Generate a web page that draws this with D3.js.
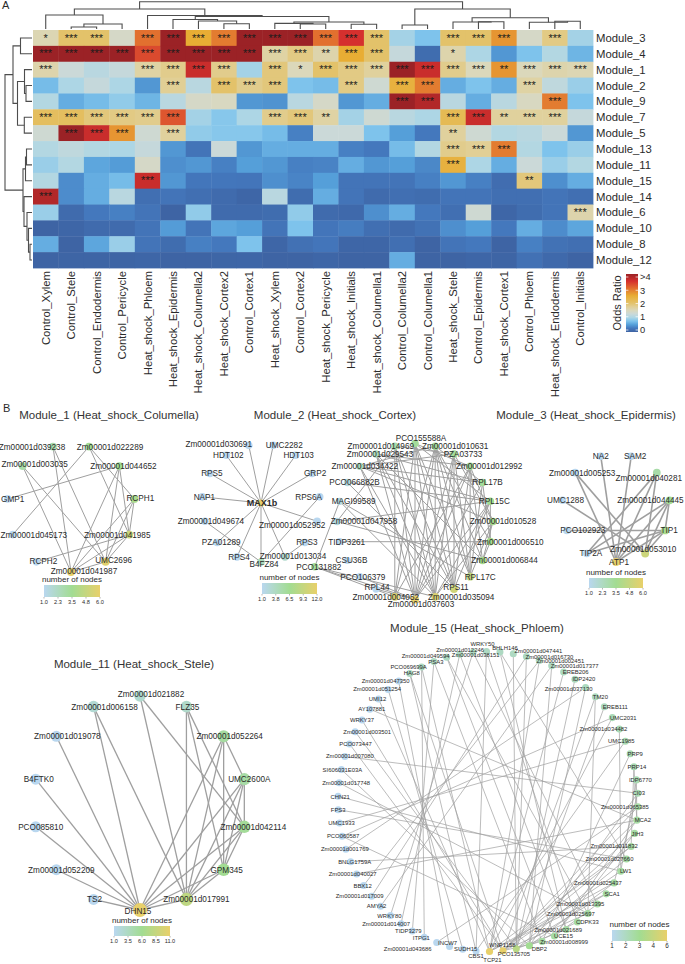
<!DOCTYPE html>
<html><head><meta charset="utf-8">
<script src="https://cdn.jsdelivr.net/npm/d3@7"></script>
<style>html,body{margin:0;padding:0;background:#fff}svg{display:block}text{font-family:"Liberation Sans",Arial,sans-serif}</style>
</head><body><div id="chart"></div>
<script>
// ---------- DATA ----------
const columnLabels = ["Control_Xylem","Control_Stele","Control_Endodermis","Control_Pericycle","Heat_shock_Phloem","Heat_shock_Epidermis","Heat_shock_Columella2","Heat_shock_Cortex2","Control_Cortex1","Heat_shock_Xylem","Control_Cortex2","Heat_shock_Pericycle","Heat_shock_Initials","Heat_shock_Columella1","Control_Columella2","Control_Columella1","Heat_shock_Stele","Control_Epidermis","Heat_shock_Cortex1","Control_Phloem","Heat_shock_Endodermis","Control_Initials"];
const rowLabels = ["Module_3","Module_4","Module_1","Module_2","Module_9","Module_7","Module_5","Module_13","Module_11","Module_15","Module_14","Module_6","Module_10","Module_8","Module_12"];
const oddsRatio = [
 [1.55,2.0,2.0,1.4,3.0,4,2.5,2.9,4,4,4,3.0,3.5,2.0,0.95,0.75,2.0,2.0,2.7,1.4,1.85,0.95],
 [4,4,4,4,3.3,4,4,4,4,1.65,1.85,1.6,2.5,2.0,1.2,0.12,1.6,1.0,0.45,0.75,1.05,0.65],
 [1.6,1.25,1.1,1.2,1.65,1.8,3.6,1.8,0.95,1.9,1.5,2.0,1.85,1.7,4,3.6,1.8,1.5,2.7,1.5,1.6,1.55],
 [0.7,1.0,1.2,1.0,0.45,1.75,1.1,2.0,1.8,1.9,0.75,0.7,1.85,1.3,2.4,2.9,0.6,0.75,0.6,1.65,1.15,0.9],
 [1.05,0.6,0.7,0.85,0.65,1.1,1.4,1.45,0.45,0.42,1.1,1.4,0.45,0.6,4,3.8,1.1,0.6,1.1,1.45,2.9,0.75],
 [2.1,2.1,1.9,1.85,1.8,3.2,0.95,0.8,1.0,1.8,1.9,1.65,0.95,1.3,1.1,1.0,2.2,3.6,1.7,1.7,1.7,1.2],
 [1.3,4,3.6,2.7,1.3,1.7,0.85,0.8,0.8,0.7,0.3,1.25,1.25,0.75,0.5,0.25,1.7,1.3,1.05,1.1,1.25,0.45],
 [1.05,1.15,1.05,1.0,1.2,0.45,0.2,1.25,0.45,0.6,0.6,0.6,0.3,0.25,0.7,1.05,1.8,1.75,2.9,1.05,0.75,0.9],
 [0.9,1.05,0.55,0.48,1.4,0.4,0.45,0.3,0.5,0.45,0.3,0.32,0.6,0.45,0.5,0.35,2.4,1.0,0.6,1.25,0.9,1.05],
 [1.05,0.38,0.6,0.7,3.6,0.45,0.23,0.23,0.22,0.4,0.33,0.5,0.2,0.2,0.2,0.3,0.45,0.3,0.13,1.9,0.4,0.6],
 [3.8,0.38,0.6,1.1,0.15,0.2,0.15,0.1,0.05,1.1,0.12,0.6,0.2,0.1,0.15,0.12,0.2,0.2,0.15,0.15,0.2,0.15],
 [0.9,0.1,0.25,0.3,0.2,0.02,0.85,0.1,0.1,0.12,0.85,0.1,0.08,0.4,0.6,0.25,0.15,1.3,0.05,0.12,0.2,1.6],
 [0.02,0.05,0.1,0.1,0.2,0.48,0.2,0.55,0.5,0.2,0.75,0.22,0.28,0.15,0.1,0.18,0.4,0.5,0.25,0.6,0.38,0.55],
 [0.6,0.02,0.55,0.9,0.2,0.12,0.3,0.25,0.75,0.05,0.17,0.22,0.05,0.05,0.15,0.02,0.2,0.25,0.02,0.3,0.18,0.15],
 [0.02,0.03,0.03,0.03,0.05,0.02,0.02,0.04,0.05,0.02,0.02,0.05,0.02,0.02,0.6,0.02,0.02,0.05,0.03,0.17,0.08,0.02]
];
const starCounts = ["1330333333333300333030","3333333333323300100000","3000333303133333332333","0000030333003033000300","0000000000000033000030","3333330003320000332330","0333030000000000200000","0000000000000000333000","0000000000000000300000","0000300000000000000200","3000000000000000000000","0000000000000000000003","0000000000000000000000","0000000000000000000000","0000000000000000000000"];
const oddsTicks = [0,1,2,3,4];
const oddsTickLabels = ["0","1","2","3",">4"];
// dendrograms: [height, leftChild, rightChild], leaves are indices
const columnTree = [27.3,
  [20,
    [14,0,[5,[2,1,2],3]],
    [13.5,4,[12.5,
       [9.5,5,[8,6,[5.3,7,8]]],
       [7,[5.6,9,[5,10,11]],[4.7,12,13]]]]],
  [20,[4,14,15],
    [11.3,[7,16,[7.3,17,18]],[6.7,19,[7.7,20,21]]]]];
const rowTree = [27,
  [19,[11.5,0,1],
     [14.5,[7.5,2,[6,3,4]],[7.7,5,6]]],
  [9,[6.5,[5.5,7,8],9],
     [8,10,[5,11,[3.5,12,[2,13,14]]]]]];

const m1Nodes = ["Zm00001d041987","UMC2696","Zm00001d041985","RCPH1","Zm00001d044652","Zm00001d022289","Zm00001d039238","Zm00001d003035","GMP1","Zm00001d045173","RCPH2"];
const m1Degrees = [6,5.7,5,3.8,3.5,3.4,2.8,2.9,1,1,1];
const m1Edges = [["041987","039238"],["041987","003035"],["041987","044652"],["041987","RCPH1"],["041987","041985"],["041987","UMC2696"],["UMC2696","003035"],["UMC2696","044652"],["UMC2696","RCPH1"],["UMC2696","041985"],["041985","RCPH1"],["041985","RCPH2"],["041985","022289"],["041985","044652"],["RCPH1","022289"],["022289","045173"],["044652","GMP1"],["039238","UMC2696"]];

const m2StarNodes = ["Zm00001d013034","RPS3","Zm00001d052952","RPS6A","GRP2","HDT103","UMC2282","Zm00001d030691","HDT102","RPS5","NAP1","Zm00001d049674","PZA01289","RPS4","B4FZ84"];
const m2StarDegrees = [3,1,1,1,1,1,1,1,1,1,1,1,1,1,4];
const m2StarEdges = [["MAX1b","Zm00001d030691"],["MAX1b","UMC2282"],["MAX1b","HDT102"],["MAX1b","HDT103"],["MAX1b","GRP2"],["MAX1b","NAP1"],["MAX1b","052952"],["MAX1b","013034"],["MAX1b","B4FZ84"],["MAX1b","RPS4"],["MAX1b","PZA01289"],["MAX1b","RPS5"],["B4FZ84","RPS6A"],["B4FZ84","049674"],["013034","RPS3"]];
const m2RingNodes = ["Zm00001d037603","Zm00001d035094","RPS11","RPL17C","Zm00001d006844","Zm00001d006510","Zm00001d010528","RPL15C","RPL17B","Zm00001d012992","PZA03733","Zm00001d010631","PCO155588A","Zm00001d014969","Zm00001d029543","Zm00001d034422","PCO066882B","MAGI99589","Zm00001d047958","TIDP3261","CSU36B","PCO106379","RPL44","Zm00001d004052"];
const m2RingDegrees = [12,11,10,9,7,7,7,6.5,6,6,6,6,6,5,4,4,2,2,2,1,1,1,1,11];
const m2RingEdges = [["037603","155588A"],["037603","014969"],["037603","029543"],["037603","PZA03733"],["037603","010631"],["037603","012992"],["037603","RPL17B"],["037603","RPL15C"],["037603","034422"],["037603","PCO131882"],["037603","PCO106379"],["037603","RPL44"],
["004052","014969"],["004052","155588A"],["004052","PCO131882"],["004052","012992"],["004052","010631"],
["035094","029543"],["035094","034422"],["035094","014969"],["035094","155588A"],["035094","010631"],["035094","PZA03733"],["035094","RPL15C"],["035094","010528"],["035094","PCO131882"],["035094","MAGI99589"],
["RPS11","029543"],["RPS11","155588A"],["RPS11","014969"],["RPS11","010631"],["RPS11","PZA03733"],["RPS11","012992"],["RPS11","RPL15C"],["RPS11","PCO066882B"],
["RPL17C","MAGI99589"],["RPL17C","012992"],["RPL17C","RPL17B"],["RPL17C","PZA03733"],["RPL17C","010631"],["RPL17C","155588A"],["RPL17C","010528"],
["006844","047958"],["006844","012992"],["006844","010528"],["006844","006510"],["006844","029543"],["006844","010631"],
["006510","TIDP3261"],["006510","010631"],["006510","RPL15C"],["006510","RPL17B"],
["010528","PZA03733"],["010528","034422"],["010528","012992"],
["RPL15C","PCO066882B"],["RPL15C","047958"],["RPL15C","034422"],["RPL15C","155588A"],
["RPL17B","034422"],["RPL17B","029543"],["RPL17B","010631"],["012992","029543"],["012992","155588A"],["PZA03733","014969"],["PZA03733","034422"],["010631","034422"],["MAGI99589","PCO131882"],["014969","047958"]];

const m3Nodes = ["ATP1","Zm00001d053010","TIP1","Zm00001d044445","Zm00001d040281","SAM2","NA2","Zm00001d005253","UMC1288","PCO102923","TIP2A"];
const m3Degrees = [6,5,3.8,3.4,2.9,1,1,1,1,1,1];
const m3Edges = [["ATP1","NA2"],["ATP1","SAM2"],["ATP1","040281"],["ATP1","044445"],["ATP1","TIP1"],["ATP1","005253"],["053010","UMC1288"],["053010","040281"],["053010","044445"],["053010","TIP1"],["053010","005253"],["TIP1","PCO102923"],["TIP1","044445"],["TIP1","TIP2A"],["044445","TIP2A"],["040281","TIP2A"]];

const m11Nodes = ["DHN15","Zm00001d017991","GPM345","Zm00001d042114","UMC2600A","Zm00001d052264","FLZ35","Zm00001d021882","Zm00001d006158","Zm00001d019078","B4FTK0","PCO085810","Zm00001d052209","TS2"];
const m11Degrees = [11,8,6,5.6,5,5.2,3,2.8,2.5,1,1,1,1,1];
const m11Edges = [["DHN15","TS2"],["DHN15","052209"],["DHN15","PCO085810"],["DHN15","B4FTK0"],["DHN15","019078"],["DHN15","006158"],["DHN15","017991"],["DHN15","GPM345"],["DHN15","042114"],["DHN15","UMC2600A"],["DHN15","052264"],["017991","006158"],["017991","021882"],["017991","FLZ35"],["017991","052264"],["017991","UMC2600A"],["017991","042114"],["017991","GPM345"],["GPM345","FLZ35"],["GPM345","052264"],["GPM345","UMC2600A"],["GPM345","042114"],["042114","FLZ35"],["042114","021882"],["042114","UMC2600A"],["052264","UMC2600A"]];

const m15Nodes = ["TCP21","PCO135705","WNP1158","DBP2","Zm00001d008999","UCE15","Zm00001d021689","CDPK33","Zm00001d025697","Zm00001d013395","SCA1","Zm00001d025437","LW1","Zm00001d027660","Zm00001d011832","JIH3","MCA2","Zm00001d065385","CI03","IDP6770","PRP14","PRP9","UMC1985","Zm00001d034482","UMC2031","EREB111","TM20","Zm00001d037130","IDP2420","EREB206","Zm00001d017377","Zm00001d002451","Zm00001d016730","Zm00001d047441","BHLH146","WRKY50","Zm00001d012246","Zm00001d038151","Zm00001d049594","PSA3","PCO069699A","HAG8","Zm00001d047350","Zm00001d051254","UMI12","AY107881","WRKY37","Zm00001d003501","PCO073447","Zm00001d007080","SI606031E03A","Zm00001d017748","CHN21","FPS3","UMC1933","PCO060587","Zm00001d001769","BNLG1759A","Zm00001d040027","BBX12","Zm00001d017009","AMYA2","WRKY80","Zm00001d014007","TIDP3279","ITPG1","Zm00001d043686","INCW7","SUDH15","CBS1"];
const m15Degrees = [6,6,4.3,3.5,3,3,3,3,3,3,3,3,3,3,3,3,3,3,2.6,2.6,2.6,2.6,2.6,2.5,2.5,2.3,2.3,2.3,2.3,2.3,2.2,2.2,2.2,2.2,2.2,2.2,2.2,2.2,2.2,2.2,2.2,2.2,1,1,1,1,1,1,1,1,1,1,1,1,1,1,1,1,1,1,1,1,1,1,1,1,1,1,1,1];
const m15Edges = [["PCO069699A","ITPG1"],["047441","WNP1158"],["016730","WNP1158"],["EREB206","TCP21"],["IDP2420","WNP1158"],["EREB111","WNP1158"],["014007","038151"],["TIDP3279","PSA3"],["HAG8","CBS1"],["047350","INCW7"],["051254","SUDH15"],["UMI12","TCP21"],["WRKY37","PCO135705"],["AY107881","MCA2"],["003501","WNP1158"],["PCO073447","PCO135705"],["007080","CI03"],["SI606031E03A","DBP2"],["017748","025697"],["CHN21","LW1"],["FPS3","027660"],["UMC1933","UMC1985"],["PCO060587","UCE15"],["PCO060587","UMC2031"],["001769","037130"],["BNLG1759A","011832"],["040027","MCA2"],["BBX12","002451"],["017009","016730"],["AMYA2","017377"],["WRKY80","012246"],["043686","065385"],["049594","025697"],["038151","021689"],["012246","013395"],["BHLH146","027660"],["WRKY50","CDPK33"],["PSA3","008999"],["PCO069699A","TCP21"],["HAG8","PCO135705"],["034482","LW1"],["PRP9","008999"],["PRP14","011832"],["IDP6770","LW1"],["CI03","025437"],["065385","PCO135705"],["MCA2","PCO135705"],["JIH3","PCO135705"],["JIH3","UCE15"],["011832","TCP21"],["011832","PCO135705"],["027660","WNP1158"],["025437","TCP21"],["025437","DBP2"],["LW1","PCO135705"],["SCA1","WNP1158"],["SCA1","TCP21"],["013395","UCE15"],["025697","PCO135705"],["CDPK33","DBP2"],["021689","WNP1158"],["008999","PCO135705"],["TM20","025697"],["017377","DBP2"],["002451","TCP21"],["UMC1985","CBS1"],["WRKY50","CBS1"],["BHLH146","021689"],["IDP6770","MCA2"],["PRP14","MCA2"],["UMC2031","TCP21"],["TM20","PCO135705"],["MCA2","UCE15"],["CI03","DBP2"],["037130","DBP2"],["049594","UCE15"]];

// ---------- LAYOUT ----------
const W = 685, H = 964;
const svg = d3.select("#chart").append("svg").attr("width",W).attr("height",H).attr("viewBox",`0 0 ${W} ${H}`);
const TXT = "#2a2a2a";

// heat map
const heatX = d3.scaleBand().domain(d3.range(columnLabels.length)).range([33,593]);
const heatY = d3.scaleBand().domain(d3.range(rowLabels.length)).range([30,268]);
const oddsColor = d3.scaleLinear()
  .domain([0,0.25,0.5,0.75,1,1.25,1.5,1.75,2,2.5,3,3.5,4])
  .range(["#3d62a2","#4478bd","#559fd9","#7ec3ec","#add6e5","#cbd9d8","#dbd8bb","#e1cf95","#e3c26a","#e8ad34","#e2702f","#d5302e","#9b2226"])
  .clamp(true);
const heat = svg.append("g");
oddsRatio.forEach((row,r)=>row.forEach((v,c)=>{
  heat.append("rect").attr("x",heatX(c)).attr("y",heatY(r)).attr("width",heatX.bandwidth()+.4).attr("height",heatY.bandwidth()+.4).attr("fill",oddsColor(v));
  const n=+starCounts[r][c];
  if(n) heat.append("text").attr("x",heatX(c)+heatX.bandwidth()/2).attr("y",heatY(r)+heatY.bandwidth()/2+3.6).attr("text-anchor","middle").attr("font-size",11).attr("fill","#1c1c1c").text("*".repeat(n));
}));
rowLabels.forEach((l,r)=>svg.append("text").attr("x",596).attr("y",heatY(r)+heatY.bandwidth()/2+4).attr("font-size",11.3).attr("fill",TXT).text(l));
columnLabels.forEach((l,c)=>svg.append("text").attr("transform",`translate(${heatX(c)+heatX.bandwidth()/2+4},271) rotate(-90)`).attr("text-anchor","end").attr("font-size",11.3).attr("fill",TXT).text(l));

// dendrograms
function drawTree(tree, leafPos, heightPos, horizontal){
  const g = svg.append("g").attr("fill","none").attr("stroke","#4d4d4d").attr("stroke-width",1.1);
  const walk = n=>{
    if(typeof n==="number") return {p:leafPos(n),h:0};
    const a=walk(n[1]), b=walk(n[2]), H=n[0];
    const pts=[[a.p,a.h],[a.p,H],[b.p,H],[b.p,b.h]];
    const line=d3.line().x(d=>horizontal?heightPos(d[1]):d[0]).y(d=>horizontal?d[0]:heightPos(d[1]));
    g.append("path").attr("d",line(pts));
    return {p:(a.p+b.p)/2,h:H};
  };
  walk(tree);
}
drawTree(columnTree,i=>heatX(i)+heatX.bandwidth()/2,d3.scaleLinear().domain([0,27.3]).range([29,1.7]),false);
drawTree(rowTree,i=>heatY(i)+heatY.bandwidth()/2,d3.scaleLinear().domain([0,27]).range([32,5]),true);

// odds legend
const defs = svg.append("defs");
const oddsY = d3.scaleLinear().domain([0,4]).range([330,277]);
const og = defs.append("linearGradient").attr("id","oddsG").attr("x1",0).attr("x2",0).attr("y1",1).attr("y2",0);
d3.range(0,4.01,.25).forEach(v=>og.append("stop").attr("offset",v/4).attr("stop-color",oddsColor(v)));
svg.append("rect").attr("x",626).attr("y",oddsY(4)-3).attr("width",12).attr("height",oddsY(0)-oddsY(4)+5).attr("fill","url(#oddsG)");
oddsTicks.forEach((t,i)=>{
  svg.append("path").attr("d",`M626,${oddsY(t)}h2.4M635.6,${oddsY(t)}h2.4`).attr("stroke","#fff").attr("stroke-width",.7);
  svg.append("text").attr("x",640).attr("y",oddsY(t)+3.3).attr("font-size",9.3).attr("fill",TXT).text(oddsTickLabels[i]);
});
svg.append("text").attr("transform","translate(621,303) rotate(-90)").attr("text-anchor","middle").attr("font-size",11).attr("fill",TXT).text("Odds Ratio");

// panel letters
svg.append("text").attr("x",2).attr("y",9).attr("font-size",11).attr("fill",TXT).text("A");
svg.append("text").attr("x",3).attr("y",412).attr("font-size",11).attr("fill",TXT).text("B");

// networks
const netColor = d3.scaleLinear().domain([0,.5,1]).range(["#b9d7ef","#a2dc92","#e8d06a"]);
const keyOf = (nodes,k)=>nodes.find(n=>n.name===k||n.name.endsWith(k));
function ringNodes(names,degrees,c){
  const angle=d3.scaleLinear().domain([0,names.length]).range([c.start,c.start-2*Math.PI]);
  return names.map((name,i)=>{
    const [x,y]=d3.pointRadial(angle(i),c.r);
    return {name,deg:degrees[i],x:c.cx+x,y:c.cy+y};
  });
}
function drawNet(nodes,edges,cfg){
  const size=d3.scaleLinear().domain(cfg.domain).range(cfg.radius);
  const col=d3.scaleLinear().domain(cfg.domain).range([0,1]);
  const g=svg.append("g");
  edges.forEach(([a,b])=>{
    const s=keyOf(nodes,a),t=keyOf(nodes,b);
    if(s&&t) g.append("line").attr("x1",s.x).attr("y1",s.y).attr("x2",t.x).attr("y2",t.y).attr("stroke","#9f9f9f").attr("stroke-width",cfg.width);
  });
  nodes.forEach(n=>g.append("circle").attr("cx",n.x).attr("cy",n.y).attr("r",size(n.deg)).attr("fill",netColor(col(n.deg))));
  nodes.forEach(n=>{
    const o=(cfg.shift&&cfg.shift[n.name.replace("Zm00001d","")])||[0,0];
    g.append("text").attr("x",n.x+o[0]).attr("y",n.y+o[1]).attr("dy",".36em").attr("text-anchor","middle")
      .attr("font-size",n.bold?9:cfg.font).attr("font-weight",n.bold?"bold":"normal").attr("fill",TXT).text(n.name);
  });
}
function title(t,x,y){svg.append("text").attr("x",x).attr("y",y+4).attr("text-anchor","middle").attr("font-size",11.5).attr("fill","#333").text(t);}
function legend(ticks,c){
  const id="g"+c.x0;
  const lg=defs.append("linearGradient").attr("id",id);
  d3.range(0,1.01,.25).forEach(v=>lg.append("stop").attr("offset",v).attr("stop-color",netColor(v)));
  svg.append("text").attr("x",(c.x0+c.x1)/2).attr("y",c.y0-3).attr("text-anchor","middle").attr("font-size",c.tf).attr("fill",TXT).text("number of nodes");
  svg.append("rect").attr("x",c.x0).attr("y",c.y0).attr("width",c.x1-c.x0).attr("height",c.y1-c.y0).attr("fill",`url(#${id})`);
  const x=d3.scalePoint().domain(d3.range(ticks.length)).range([c.x0,c.x1]);
  ticks.forEach((t,i)=>{
    svg.append("line").attr("x1",x(i)).attr("x2",x(i)).attr("y1",c.y1).attr("y2",c.y1+1.5).attr("stroke","#666").attr("stroke-width",.5);
    svg.append("text").attr("x",x(i)).attr("y",c.y1+7).attr("text-anchor","middle").attr("font-size",c.lf).attr("fill",TXT).text(t);
  });
}

// Module 1
title("Module_1 (Heat_shock_Columella)",109,415);
drawNet(ringNodes(m1Nodes,m1Degrees,{cx:71,cy:508,r:64,start:Math.PI}),m1Edges,{domain:[1,6],radius:[3.8,4],width:1,font:8.2,
 shift:{"039238":[-21,0],"022289":[21,0],"003035":[12,-2],"044652":[4,0],"RCPH1":[6,-1],"041985":[-12,0],"UMC2696":[8,-2],"041987":[13,-1],"RCPH2":[7,-1],"045173":[21,0],"GMP1":[5,0]}});
legend(["1.0","2.3","3.5","4.8","6.0"],{x0:44,x1:100,y0:585,y1:597,tf:8,lf:5.6});

// Module 2
title("Module_2 (Heat_shock_Cortex)",335,415);
const star=ringNodes(m2StarNodes,m2StarDegrees,{cx:261,cy:503,r:59,start:Math.PI-24*Math.PI/180});
const hub={name:"MAX1b",deg:12,x:d3.mean(star,d=>d.x),y:d3.mean(star,d=>d.y),bold:true};
drawNet([hub,...star],m2StarEdges,{domain:[1,12],radius:[3.8,3.6],width:1,font:8.2,
 shift:{"030691":[-30,-1],"UMC2282":[11,0],"HDT102":[2,0],"HDT103":[3,0],"GRP2":[3,0],"RPS6A":[-11,0],"052952":[-25,4],"RPS3":[2,0],"013034":[8,-1],"B4FZ84":[3,2],"RPS4":[2,0],"PZA01289":[4,0],"049674":[6,0],"NAP1":[2,0],"RPS5":[2,0],"MAX1b":[1,0]}});
const ring2=ringNodes(m2RingNodes,m2RingDegrees,{cx:415,cy:521.5,r:78,start:Math.PI});
// PCO131882 lies outside the ring, on its lower-left
const [ox,oy]=d3.pointRadial(Math.PI*1.365,110);
ring2.push({name:"PCO131882",deg:6,x:415+ox,y:521.5+oy});
drawNet(ring2,m2RingEdges,{domain:[1,12],radius:[3.6,4],width:1,font:8.2,
 shift:{"PCO155588A":[6,-5],"014969":[-14,0],"010631":[20,0],"PZA03733":[9,0],"012992":[19,0],"RPL17B":[5,0],"RPL15C":[4,0],"010528":[10,0],"006510":[20,0],"006844":[22,0],"RPL17C":[10,0],"RPS11":[2,-2],"035094":[26,0],"037603":[6,5],"004052":[-9,0],"RPL44":[1,-2],"PCO106379":[3,0],"CSU36B":[4,0],"TIDP3261":[7,0],"047958":[27,0],"MAGI99589":[14,0],"PCO066882B":[7,0],"034422":[5,0],"029543":[4,0],"PCO131882":[4,0]}});
legend(["1.0","3.8","6.5","9.3","12.0"],{x0:262,x1:317,y0:583,y1:594,tf:8,lf:5.6});

// Module 3
title("Module_3 (Heat_shock_Epidermis)",586,415);
drawNet(ringNodes(m3Nodes,m3Degrees,{cx:616,cy:508,r:54,start:Math.PI}),m3Edges,{domain:[1,6],radius:[3.8,4],width:1.6,font:8.2,
 shift:{"NA2":[0,0],"SAM2":[4,0],"040281":[-8,5],"044445":[-19,0],"TIP1":[4,0],"053010":[-2,-4],"ATP1":[3,0],"TIP2A":[4,0],"PCO102923":[16,0],"UMC1288":[3,0],"005253":[7,0]}});
legend(["1.0","2.3","3.5","4.8","6.0"],{x0:589,x1:643,y0:578,y1:588,tf:8,lf:5.6});

// Module 11
title("Module_11 (Heat_shock_Stele)",134,664);
drawNet(ringNodes(m11Nodes,m11Degrees,{cx:140,cy:803,r:107,start:Math.PI}),m11Edges,{domain:[1,11],radius:[5.5,7],width:1.3,font:8.2,
 shift:{"DHN15":[-2,1.5],"017991":[10,0],"GPM345":[3,0],"042114":[9,0],"UMC2600A":[5,0],"052264":[6,0],"FLZ35":[1,0],"021882":[11,-2],"006158":[11,0],"019078":[11,0],"B4FTK0":[3,0],"PCO085810":[5,0],"052209":[5,0],"TS2":[1,0]}});
legend(["1.0","3.5","6.0","8.5","11.0"],{x0:114,x1:170,y0:926,y1:936,tf:8,lf:5.6});

// Module 15
title("Module_15 (Heat_shock_Phloem)",477,628);
drawNet(ringNodes(m15Nodes,m15Degrees,{cx:488,cy:801.5,r:150,start:Math.PI-.01}),m15Edges,{domain:[1,6],radius:[3.5,3.6],width:.7,font:5.9,
 shift:{"TCP21":[3,8],"PCO135705":[11,3],"WNP1158":[-14,-4],"DBP2":[10,3],"008999":[22,0],"UCE15":[9,0],"021689":[-8,0],"CDPK33":[10,0],"025697":[-17,0],"013395":[-17,0],"SCA1":[6,0],"025437":[-16,0],"LW1":[5,0],"027660":[-17,0],"011832":[-17,-1],"JIH3":[3,0],"MCA2":[6,0],"065385":[-13,0],"CI03":[1,0],"IDP6770":[4,0],"PRP14":[3,0],"PRP9":[5,0],"UMC1985":[-4,0],"034482":[-16,0],"UMC2031":[11,0],"EREB111":[11,0],"TM20":[5,0],"037130":[-17,1],"IDP2420":[9,0],"EREB206":[12,0],"017377":[23,0],"002451":[21,0],"016730":[23,0],"047441":[25,-3],"BHLH146":[5,-4],"WRKY50":[-4,-8],"012246":[-13,-2],"038151":[16,1],"049594":[-21,-1],"PSA3":[2,0],"PCO069699A":[-13,0],"HAG8":[2,-1],"047350":[-13,0],"051254":[-11,-1],"UMI12":[-1,0],"AY107881":[2,0],"003501":[12,0],"PCO073447":[6,0],"007080":[5,-1],"SI606031E03A":[1,0],"017748":[7,0],"CHN21":[2,1],"UMC1933":[2,0],"PCO060587":[1,0],"001769":[-1,0],"BNLG1759A":[4,0],"040027":[-4,0],"BBX12":[-1,0],"017009":[-12,0],"AMYA2":[-4,0],"WRKY80":[-1,0],"014007":[-15,0],"TIDP3279":[-4,0],"ITPG1":[-3,1],"043686":[-29,6],"INCW7":[-2,-4],"SUDH15":[3,0],"CBS1":[0,5]}});
legend(["1","2","3","4","6"],{x0:612,x1:667,y0:930,y1:941,tf:8,lf:6.3});
</script></body></html>
